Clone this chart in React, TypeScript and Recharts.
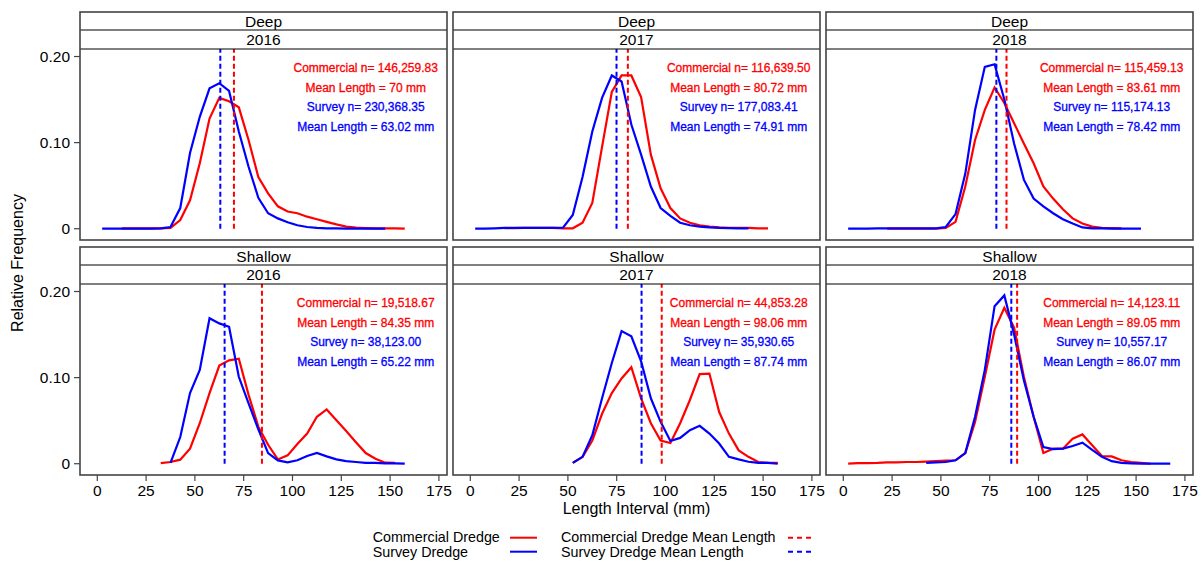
import React from 'react';
import { LineChart, Line, XAxis, YAxis, ReferenceLine, ReferenceDot } from 'recharts';

// ---------- data ----------
const LENGTH_BINS = [2.5, 7.5, 12.5, 17.5, 22.5, 27.5, 32.5, 37.5, 42.5, 47.5, 52.5, 57.5, 62.5, 67.5, 72.5, 77.5, 82.5, 87.5, 92.5, 97.5, 102.5, 107.5, 112.5, 117.5, 122.5, 127.5, 132.5, 137.5, 142.5, 147.5, 152.5, 157.5, 162.5, 167.5];
const LENGTH_TICKS = [0, 25, 50, 75, 100, 125, 150, 175];
const FREQ_TICKS = [0, 0.1, 0.2];

const _ = null;

const deep2016Commercial = [_, _, 0.0005, 0.0005, 0.0005, 0.0005, 0.0005, 0.001, 0.010, 0.033, 0.076, 0.128, 0.152, 0.148, 0.141, 0.103, 0.060, 0.041, 0.026, 0.020, 0.018, 0.014, 0.011, 0.008, 0.005, 0.0025, 0.0012, 0.0008, 0.0005, 0.0005, 0.0003, 0, _, _];
const deep2016Survey = [0, 0, 0, 0, 0, 0, 0.0005, 0.002, 0.024, 0.088, 0.130, 0.163, 0.169, 0.160, 0.113, 0.072, 0.036, 0.018, 0.012, 0.0075, 0.004, 0.002, 0.001, 0.0005, 0.0003, 0, 0, 0, 0, 0, _, _, _, _];

const deep2017Commercial = [_, _, _, 0.0007, 0.0008, 0.001, 0.001, 0.001, 0.001, 0.0005, 0.0005, 0.007, 0.030, 0.095, 0.159, 0.178, 0.178, 0.153, 0.086, 0.047, 0.024, 0.012, 0.007, 0.004, 0.0025, 0.0015, 0.001, 0.001, 0.001, 0.0005, 0.0003, _, _, _];
const deep2017Survey = [0, 0, 0.0005, 0.001, 0.001, 0.001, 0.001, 0.001, 0.001, 0.0012, 0.016, 0.060, 0.113, 0.152, 0.178, 0.171, 0.121, 0.086, 0.049, 0.024, 0.015, 0.007, 0.004, 0.0025, 0.0015, 0.001, 0.0008, 0.0005, 0.0005, _, _, _, _, _];

const deep2018Commercial = [_, _, _, _, 0, 0, 0, 0, 0, 0, 0.001, 0.008, 0.049, 0.103, 0.138, 0.164, 0.146, 0.1225, 0.099, 0.076, 0.049, 0.035, 0.0225, 0.012, 0.006, 0.0025, 0.001, 0.0008, 0.0005, _, _, _, _, _];
const deep2018Survey = [0, 0, 0, 0.0005, 0.0005, 0.0005, 0.0005, 0.0005, 0.0005, 0.0005, 0.002, 0.017, 0.064, 0.138, 0.188, 0.191, 0.150, 0.099, 0.057, 0.035, 0.026, 0.018, 0.011, 0.006, 0.0015, 0.0005, 0.0005, 0, 0, 0, 0, _, _, _];

const shallow2016Commercial = [_, _, _, _, _, _, 0.0008, 0.002, 0.0047, 0.0175, 0.047, 0.082, 0.114, 0.120, 0.122, 0.080, 0.043, 0.022, 0.005, 0.0097, 0.023, 0.035, 0.0545, 0.063, 0.0506, 0.038, 0.025, 0.0124, 0.0058, 0.0012, 0.001, _, _, _];
const shallow2016Survey = [_, _, _, _, _, _, _, 0.001, 0.031, 0.082, 0.109, 0.169, 0.163, 0.159, 0.101, 0.070, 0.040, 0.0124, 0.0039, 0.0016, 0.004, 0.009, 0.0125, 0.0085, 0.005, 0.003, 0.002, 0.001, 0.001, 0.0005, 0.0003, 0, _, _];

const shallow2017Commercial = [_, _, _, _, _, _, _, _, _, _, 0.001, 0.008, 0.027, 0.058, 0.082, 0.099, 0.112, 0.076, 0.047, 0.027, 0.024, 0.047, 0.074, 0.104, 0.1047, 0.060, 0.035, 0.0155, 0.008, 0.002, 0.001, 0.001, _, _];
const shallow2017Survey = [_, _, _, _, _, _, _, _, _, _, 0.001, 0.008, 0.033, 0.076, 0.117, 0.154, 0.148, 0.119, 0.076, 0.0486, 0.0264, 0.030, 0.039, 0.044, 0.035, 0.0234, 0.008, 0.005, 0.0023, 0.001, 0.001, 0, _, _];

const shallow2018Commercial = [0, 0.0008, 0.0008, 0.001, 0.0015, 0.0015, 0.002, 0.002, 0.0025, 0.003, 0.0035, 0.004, 0.0124, 0.0486, 0.101, 0.1557, 0.181, 0.158, 0.101, 0.0545, 0.0124, 0.0175, 0.0175, 0.029, 0.034, 0.0214, 0.0089, 0.0085, 0.004, 0.002, 0.001, 0, _, _];
const shallow2018Survey = [_, _, _, _, _, _, _, _, 0.001, 0.0015, 0.002, 0.004, 0.0124, 0.0545, 0.109, 0.183, 0.1955, 0.150, 0.097, 0.0545, 0.0194, 0.017, 0.0175, 0.0206, 0.0245, 0.016, 0.008, 0.003, 0.001, 0.0005, 0, 0, 0, 0];

const REGIONS = ['Deep', 'Deep', 'Deep', 'Shallow', 'Shallow', 'Shallow'];
const YEARS = ['2016', '2017', '2018', '2016', '2017', '2018'];
const COMMERCIAL_SERIES = [deep2016Commercial, deep2017Commercial, deep2018Commercial, shallow2016Commercial, shallow2017Commercial, shallow2018Commercial];
const SURVEY_SERIES = [deep2016Survey, deep2017Survey, deep2018Survey, shallow2016Survey, shallow2017Survey, shallow2018Survey];
const COMMERCIAL_MEANS = [70, 80.72, 83.61, 84.35, 98.06, 89.05];
const SURVEY_MEANS = [63.02, 74.91, 78.42, 65.22, 87.74, 86.07];
const COMMERCIAL_MEAN_LABELS = ['70', '80.72', '83.61', '84.35', '98.06', '89.05'];
const SURVEY_MEAN_LABELS = ['63.02', '74.91', '78.42', '65.22', '87.74', '86.07'];
const COMMERCIAL_N = ['146,259.83', '116,639.50', '115,459.13', '19,518.67', '44,853.28', '14,123.11'];
const SURVEY_N = ['230,368.35', '177,083.41', '115,174.13', '38,123.00', '35,930.65', '10,557.17'];

// ---------- layout / style ----------
const FONT = '"Liberation Sans", Arial, Helvetica, sans-serif';
const RED = '#ff0000';
const BLUE = '#0000ff';
const PANEL_W = 367;
const PANEL_H = 228;
const COL_LEFT = [80, 453, 826];
const ROW_TOP = [12, 247];
const Y_AXIS_W = 50;
const RIGHT_W = 10;
const TOP_H = 8;
const BOTTOM_H = 32;
const X_DOMAIN: [number, number] = [-8.86, 179.15];
const Y_DOMAIN: [number, number] = [-0.0131, 0.2517];
const STRIP1 = 18;
const STRIP2 = 37;
const STRIP_BOTTOM_VALUE = Y_DOMAIN[1] - (STRIP2 / PANEL_H) * (Y_DOMAIN[1] - Y_DOMAIN[0]);
const ANNOT_X = 137.5;
const ANNOT_Y = [0.1865, 0.164, 0.1414, 0.119];

const toRows = (vals: (number | null)[]) => LENGTH_BINS.map((x, i) => ({ x, y: vals[i] }));
const fmtFreq = (v: number) => (v === 0 ? '0' : v.toFixed(2));

function Panel({ idx }: { idx: number }) {
  const row = Math.floor(idx / 3);
  const col = idx % 3;
  const isTopRow = row === 0;
  const isLeft = col === 0;
  const isRight = col === 2;
  const cm = COMMERCIAL_MEANS[idx];
  const sm = SURVEY_MEANS[idx];
  const lines = [
    { t: `Commercial n= ${COMMERCIAL_N[idx]}`, c: RED },
    { t: `Mean Length = ${COMMERCIAL_MEAN_LABELS[idx]} mm`, c: RED },
    { t: `Survey n= ${SURVEY_N[idx]}`, c: BLUE },
    { t: `Mean Length = ${SURVEY_MEAN_LABELS[idx]} mm`, c: BLUE },
  ];
  const tickStyle = { fill: '#000', fontSize: 15.5, fontFamily: FONT };
  const tickLineStyle = { stroke: '#444', strokeWidth: 1.2 };
  return (
    <div style={{ position: 'absolute', left: COL_LEFT[col] - Y_AXIS_W, top: ROW_TOP[row] - TOP_H }}>
      <LineChart
        width={Y_AXIS_W + PANEL_W + RIGHT_W}
        height={TOP_H + PANEL_H + BOTTOM_H}
        margin={{ top: 0, right: 0, bottom: 0, left: 0 }}
      >
        <XAxis
          xAxisId="b"
          dataKey="x"
          type="number"
          domain={X_DOMAIN}
          allowDataOverflow
          ticks={LENGTH_TICKS}
          interval={0}
          orientation="bottom"
          height={BOTTOM_H}
          axisLine={false}
          tickLine={!isTopRow ? tickLineStyle : false}
          tick={!isTopRow ? tickStyle : false}
          tickSize={6}
          tickMargin={4}
        />
        <XAxis
          xAxisId="t"
          dataKey="x"
          type="number"
          domain={X_DOMAIN}
          allowDataOverflow
          ticks={LENGTH_TICKS}
          interval={0}
          orientation="top"
          height={TOP_H}
          axisLine={false}
          tickLine={isTopRow ? tickLineStyle : false}
          tick={false}
          tickSize={6}
        />
        <YAxis
          yAxisId="l"
          type="number"
          domain={Y_DOMAIN}
          allowDataOverflow
          ticks={FREQ_TICKS}
          interval={0}
          orientation="left"
          width={Y_AXIS_W}
          axisLine={false}
          tickLine={isLeft ? tickLineStyle : false}
          tick={isLeft ? tickStyle : false}
          tickFormatter={fmtFreq}
          tickSize={6}
          tickMargin={4}
        />
        <YAxis
          yAxisId="r"
          type="number"
          domain={Y_DOMAIN}
          allowDataOverflow
          ticks={FREQ_TICKS}
          interval={0}
          orientation="right"
          width={RIGHT_W}
          axisLine={false}
          tickLine={isRight ? tickLineStyle : false}
          tick={false}
          tickSize={6}
        />
        <Line
          data={toRows(COMMERCIAL_SERIES[idx])}
          dataKey="y"
          xAxisId="b"
          yAxisId="l"
          type="linear"
          stroke={RED}
          strokeWidth={2.2}
          dot={false}
          activeDot={false}
          connectNulls={false}
          isAnimationActive={false}
        />
        <Line
          data={toRows(SURVEY_SERIES[idx])}
          dataKey="y"
          xAxisId="b"
          yAxisId="l"
          type="linear"
          stroke={BLUE}
          strokeWidth={2.2}
          dot={false}
          activeDot={false}
          connectNulls={false}
          isAnimationActive={false}
        />
        <ReferenceLine
          xAxisId="b"
          yAxisId="l"
          segment={[{ x: cm, y: 0 }, { x: cm, y: STRIP_BOTTOM_VALUE }]}
          stroke={RED}
          strokeWidth={2}
          strokeDasharray="5 3"
          ifOverflow="visible"
        />
        <ReferenceLine
          xAxisId="b"
          yAxisId="l"
          segment={[{ x: sm, y: 0 }, { x: sm, y: STRIP_BOTTOM_VALUE }]}
          stroke={BLUE}
          strokeWidth={2}
          strokeDasharray="5 3"
          ifOverflow="visible"
        />
        {lines.map((ln, i) => (
          <ReferenceDot
            key={i}
            xAxisId="b"
            yAxisId="l"
            x={ANNOT_X}
            y={ANNOT_Y[i]}
            r={0}
            shape={(p: any) => (
              <text
                x={p.cx}
                y={p.cy}
                dy="0.36em"
                textAnchor="middle"
                fill={ln.c}
                stroke={ln.c}
                strokeWidth={0.3}
                fontSize={12}
                fontFamily={FONT}
              >
                {ln.t}
              </text>
            )}
          />
        ))}
      </LineChart>
    </div>
  );
}

function Overlay() {
  const panels = [0, 1, 2, 3, 4, 5];
  return (
    <svg
      width={1203}
      height={562}
      style={{ position: 'absolute', left: 0, top: 0, pointerEvents: 'none' }}
      fontFamily={FONT}
    >
      {panels.map((idx) => {
        const row = Math.floor(idx / 3);
        const col = idx % 3;
        const x = COL_LEFT[col];
        const y = ROW_TOP[row];
        const cx = x + PANEL_W / 2;
        return (
          <g key={idx}>
            <rect x={x} y={y} width={PANEL_W} height={STRIP2} fill="#fff" />
            <line x1={x} x2={x + PANEL_W} y1={y + STRIP1} y2={y + STRIP1} stroke="#000" strokeWidth={1.2} />
            <line x1={x} x2={x + PANEL_W} y1={y + STRIP2} y2={y + STRIP2} stroke="#000" strokeWidth={1.2} />
            <text x={cx} y={y + 15} textAnchor="middle" fontSize={15.5} fill="#000">
              {REGIONS[idx]}
            </text>
            <text x={cx} y={y + 33.2} textAnchor="middle" fontSize={15.5} fill="#000">
              {YEARS[idx]}
            </text>
            <rect x={x} y={y} width={PANEL_W} height={PANEL_H} fill="none" stroke="#444" strokeWidth={1.6} />
          </g>
        );
      })}
      <text x={0} y={0} transform="translate(22.5 263) rotate(-90)" textAnchor="middle" fontSize={16} fill="#000">
        Relative Frequency
      </text>
      <text x={636.5} y={513.5} textAnchor="middle" fontSize={16} fill="#000">
        Length Interval (mm)
      </text>
      {/* legend */}
      <text x={372.7} y={542.4} fontSize={14.3} fill="#000">Commercial Dredge</text>
      <text x={372.7} y={556.7} fontSize={14.3} fill="#000">Survey Dredge</text>
      <line x1={510} x2={537} y1={537.7} y2={537.7} stroke={RED} strokeWidth={2} />
      <line x1={510} x2={537} y1={551.7} y2={551.7} stroke={BLUE} strokeWidth={2} />
      <text x={561} y={542.4} fontSize={14.3} fill="#000">Commercial Dredge Mean Length</text>
      <text x={561} y={556.7} fontSize={14.3} fill="#000">Survey Dredge Mean Length</text>
      <line x1={788} x2={811} y1={537.7} y2={537.7} stroke={RED} strokeWidth={2} strokeDasharray="5 4" />
      <line x1={788} x2={811} y1={551.7} y2={551.7} stroke={BLUE} strokeWidth={2} strokeDasharray="5 4" />
    </svg>
  );
}

export default function App() {
  return (
    <div style={{ position: 'absolute', left: 0, top: 0, width: 1203, height: 562, background: '#fff', fontFamily: FONT }}>
      {[0, 1, 2, 3, 4, 5].map((i) => (
        <Panel key={i} idx={i} />
      ))}
      <Overlay />
    </div>
  );
}
